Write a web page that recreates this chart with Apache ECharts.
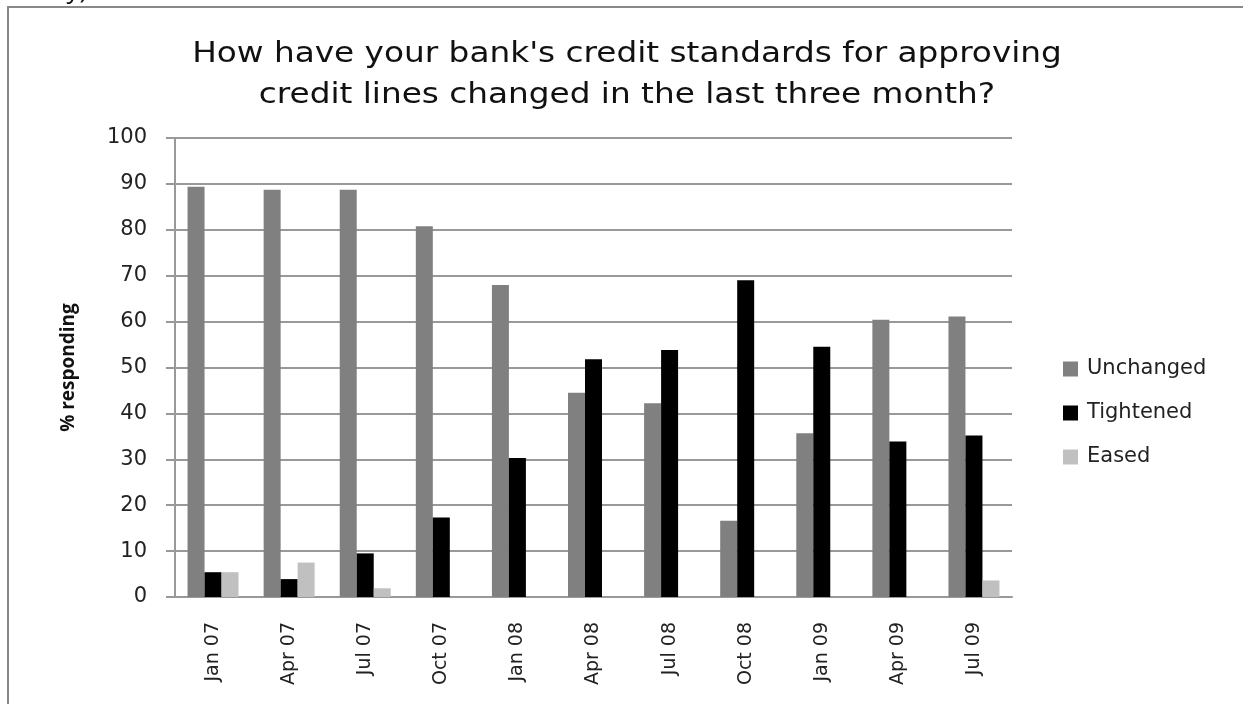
<!DOCTYPE html>
<html>
<head>
<meta charset="utf-8">
<script src="https://cdn.jsdelivr.net/npm/echarts@6/dist/echarts.min.js"></script>
<style>
html,body{margin:0;padding:0;background:#fff;}
#chart{width:1243px;height:704px;}
</style>
</head>
<body>
<div id="chart"></div>
<script>
const categories = ['Jan 07','Apr 07','Jul 07','Oct 07','Jan 08','Apr 08','Jul 08','Oct 08','Jan 09','Apr 09','Jul 09'];
const unchanged = [89.4, 88.7, 88.7, 80.8, 68.0, 44.5, 42.2, 16.6, 35.7, 60.4, 61.1];
const tightened = [5.4, 3.9, 9.5, 17.3, 30.3, 51.8, 53.8, 69.0, 54.5, 33.9, 35.2];
const eased = [5.4, 7.5, 1.9, 0, 0, 0, 0, 0, 0, 0, 3.6];
const yTicks = [0, 100, 10];
const titleText = "How have your bank's credit standards for approving\ncredit lines changed in the last three month?";

const FONT = '"DejaVu Sans", "Open Sans", sans-serif';
const chart = echarts.init(document.getElementById('chart'), null, {renderer: 'canvas'});
chart.setOption({
  backgroundColor: '#fff',
  animation: false,
  graphic: [
    {type: 'rect', shape: {x: 8, y: 7, width: 1250, height: 720}, style: {fill: 'none', stroke: '#888', lineWidth: 2}, silent: true},
    {type: 'text', x: -2, y: -22, style: {text: 'Survey)', font: '26px "Open Sans", sans-serif', fill: '#111'}, silent: true},
    {type: 'text', x: 627, y: 34, scaleX: 1.19, silent: true,
     style: {text: titleText, font: '27.5px ' + FONT, fill: '#111', align: 'center', verticalAlign: 'top', lineHeight: 41}}
  ],
  legend: {
    orient: 'vertical', left: 1058, top: 353, itemGap: 22,
    itemWidth: 15, itemHeight: 15, icon: 'rect',
    textStyle: {fontFamily: FONT, fontSize: 21, lineHeight: 22, color: '#222', padding: [0, 0, 0, 4]},
    data: ['Unchanged', 'Tightened', 'Eased']
  },
  grid: {left: 175, right: 231, top: 138, bottom: 107},
  xAxis: {
    type: 'category', data: categories,
    axisLine: {lineStyle: {color: '#999', width: 2}},
    axisTick: {show: false},
    axisLabel: {rotate: 90, fontFamily: FONT, fontSize: 19, color: '#222', margin: 25, interval: 0}
  },
  yAxis: {
    type: 'value', min: yTicks[0], max: yTicks[1], interval: yTicks[2],
    name: '% responding', nameLocation: 'middle', nameGap: 97, nameRotate: 90,
    nameTextStyle: {fontFamily: '"Open Sans", sans-serif', fontWeight: 'bold', fontSize: 19, color: '#111'},
    axisLine: {show: true, lineStyle: {color: '#999', width: 2}},
    axisTick: {show: true, length: 9, lineStyle: {color: '#999', width: 2}},
    axisLabel: {fontFamily: FONT, fontSize: 21, color: '#222', margin: 28},
    splitLine: {lineStyle: {color: '#999', width: 2}}
  },
  series: [
    {name: 'Unchanged', type: 'bar', data: unchanged, itemStyle: {color: '#808080'}, barGap: '0%', barCategoryGap: '33%'},
    {name: 'Tightened', type: 'bar', data: tightened, itemStyle: {color: '#000000'}},
    {name: 'Eased', type: 'bar', data: eased, itemStyle: {color: '#c0c0c0'}}
  ]
});
</script>
</body>
</html>
